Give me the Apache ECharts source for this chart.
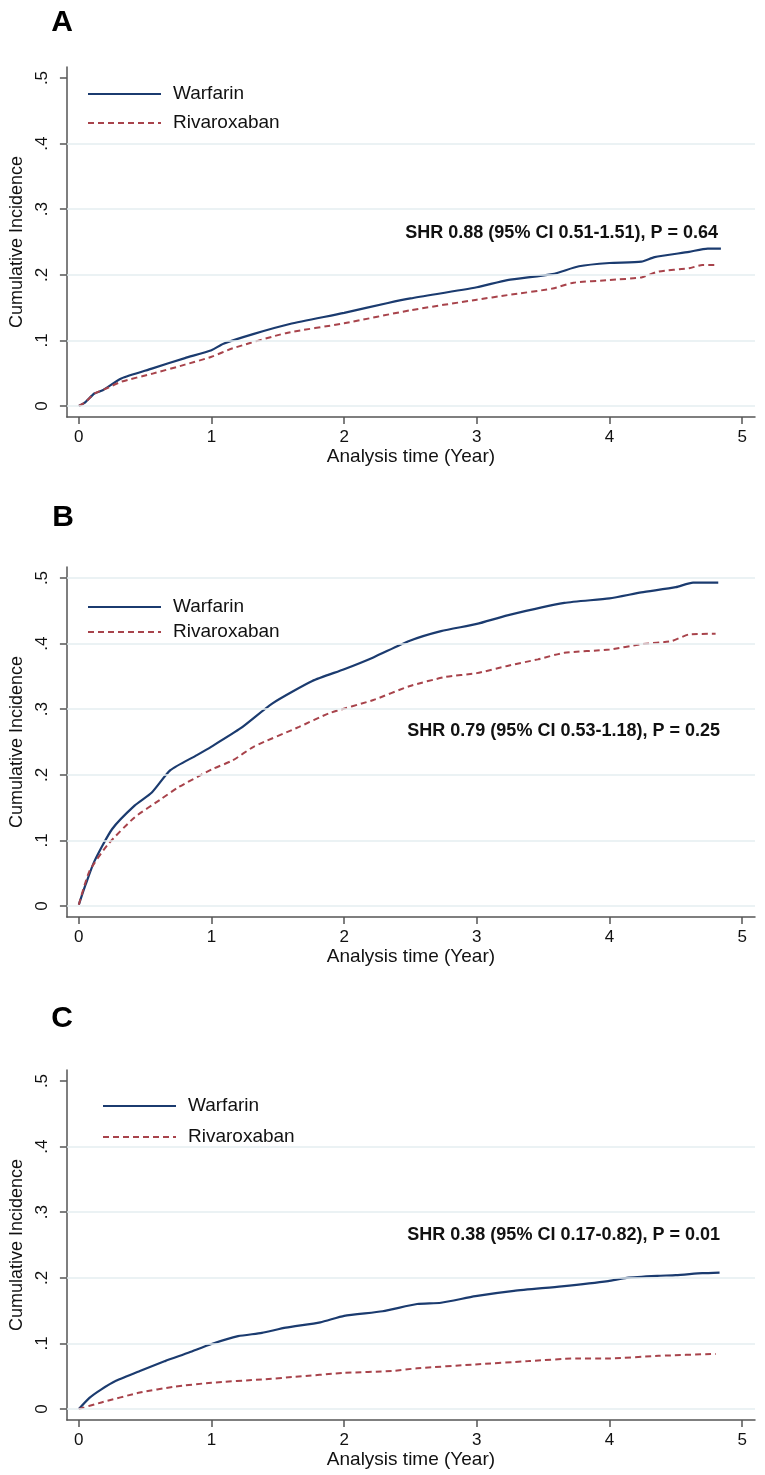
<!DOCTYPE html>
<html>
<head>
<meta charset="utf-8">
<script src="https://cdn.jsdelivr.net/npm/echarts@6/dist/echarts.min.js"></script>
<style>
html,body{margin:0;padding:0;background:#fff;}
#chart{width:765px;height:1475px;}
</style>
</head>
<body>
<div id="chart"></div>
<script>
// ---------- data ----------
const panelLabels = ['A', 'B', 'C'];
const seriesNames = ['Warfarin', 'Rivaroxaban'];
const xTicks = [0, 1, 2, 3, 4, 5];
const xTickLabels = ['0', '1', '2', '3', '4', '5'];
const yTicks = [0, 0.1, 0.2, 0.3, 0.4, 0.5];
const yTickLabels = ['0', '.1', '.2', '.3', '.4', '.5'];
const xTitle = 'Analysis time (Year)';
const yTitle = 'Cumulative Incidence';
const shrTexts = [
  'SHR 0.88 (95% CI 0.51-1.51), P = 0.64',
  'SHR 0.79 (95% CI 0.53-1.18), P = 0.25',
  'SHR 0.38 (95% CI 0.17-0.82), P = 0.01'
];

const aWarfarin = [[0,0],[0.05,0.006],[0.117,0.019],[0.18,0.024],[0.32,0.042],[0.55,0.057],[0.8,0.073],[1,0.085],[1.09,0.095],[1.32,0.110],[1.59,0.125],[2,0.142],[2.33,0.157],[2.5,0.164],[3,0.181],[3.23,0.192],[3.57,0.201],[3.77,0.213],[4,0.218],[4.24,0.220],[4.34,0.227],[4.6,0.235],[4.74,0.240],[4.84,0.240]];
const aRivaroxaban = [[0,0],[0.05,0.006],[0.117,0.019],[0.2,0.026],[0.32,0.037],[0.55,0.049],[0.8,0.063],[1,0.075],[1.16,0.088],[1.56,0.111],[2,0.126],[2.5,0.146],[3,0.162],[3.23,0.169],[3.57,0.179],[3.73,0.188],[4,0.192],[4.24,0.196],[4.37,0.205],[4.6,0.210],[4.7,0.215],[4.79,0.215]];

const bWarfarin = [[0,0.002],[0.05,0.032],[0.117,0.068],[0.25,0.117],[0.42,0.153],[0.55,0.173],[0.69,0.207],[0.89,0.230],[1,0.243],[1.22,0.271],[1.46,0.309],[1.76,0.343],[2,0.361],[2.22,0.379],[2.49,0.404],[2.73,0.419],[3,0.430],[3.23,0.443],[3.66,0.462],[4,0.469],[4.24,0.478],[4.5,0.486],[4.63,0.493],[4.82,0.493]];
const bRivaroxaban = [[0,0.002],[0.08,0.053],[0.22,0.094],[0.42,0.135],[0.62,0.163],[0.75,0.181],[1,0.208],[1.16,0.222],[1.32,0.243],[1.66,0.273],[1.89,0.294],[2.22,0.314],[2.49,0.335],[2.76,0.349],[3,0.355],[3.23,0.366],[3.46,0.376],[3.66,0.386],[4,0.391],[4.24,0.399],[4.47,0.404],[4.6,0.414],[4.8,0.415]];

const cWarfarin = [[0,0],[0.08,0.017],[0.17,0.030],[0.28,0.043],[0.46,0.058],[0.65,0.073],[0.83,0.086],[1,0.099],[1.2,0.111],[1.38,0.116],[1.56,0.124],[1.82,0.132],[2,0.142],[2.29,0.149],[2.55,0.160],[2.73,0.162],[2.99,0.172],[3.28,0.180],[3.64,0.187],[3.99,0.195],[4.13,0.200],[4.36,0.203],[4.5,0.204],[4.7,0.207],[4.83,0.208]];
const cRivaroxaban = [[0,0],[0.17,0.010],[0.46,0.025],[0.72,0.034],[1,0.040],[1.38,0.045],[1.63,0.049],[2,0.055],[2.36,0.058],[2.55,0.062],[2.99,0.068],[3.39,0.073],[3.75,0.077],[3.99,0.077],[4.37,0.081],[4.8,0.084]];

const panelData = [[aWarfarin, aRivaroxaban],[bWarfarin, bRivaroxaban],[cWarfarin, cRivaroxaban]];
const panelGridLines = [[0,0.1,0.2,0.3,0.4],[0,0.1,0.2,0.3,0.4,0.5],[0,0.1,0.2,0.3,0.4]];

// ---------- layout ----------
const FONT = '"Liberation Sans", Arial, sans-serif';
const gridTops = [67, 567, 1070];
const gridH = 350;
const legendLayout = [
  {left: 82, top: 79.5, gap: 10},
  {left: 82, top: 592.5, gap: 6},
  {left: 97, top: 1091.5, gap: 12}
];
const shrLayout = [{right: 42, top: 219}, {right: 40, top: 717}, {right: 40, top: 1221}];
const labelLayout = [{left: 57, top: 3}, {left: 58, top: 498}, {left: 57, top: 999}];
const colors = ['#1b3b6f', '#a8434b'];

const chart = echarts.init(document.getElementById('chart'), null, {renderer: 'canvas'});

const grids = [], xAxes = [], yAxes = [], series = [], legends = [], titles = [];
for (let p = 0; p < 3; p++) {
  grids.push({left: 63, right: 10, top: gridTops[p], height: gridH, containLabel: false});
  xAxes.push({
    type: 'value', gridIndex: p, min: -0.09, max: 5.097,
    name: xTitle, nameLocation: 'middle', nameGap: 30,
    nameTextStyle: {fontFamily: FONT, fontSize: 19, color: '#111'},
    axisLine: {show: true, onZero: false, lineStyle: {color: '#555', width: 1.5}},
    axisTick: {show: true, length: 7, lineStyle: {color: '#555', width: 1.5}, customValues: xTicks},
    axisLabel: {show: true, customValues: xTicks, margin: 12, fontFamily: FONT, fontSize: 17, color: '#111',
      formatter: v => xTickLabels[xTicks.indexOf(Math.round(v))]},
    splitLine: {show: false}
  });
  yAxes.push({
    type: 'value', gridIndex: p, min: -0.0168, max: 0.5168,
    name: yTitle, nameLocation: 'middle', nameGap: 36,
    nameTextStyle: {fontFamily: FONT, fontSize: 18, color: '#111'},
    axisLine: {show: true, onZero: false, lineStyle: {color: '#555', width: 1.5}},
    axisTick: {show: true, length: 7, lineStyle: {color: '#555', width: 1.5}, customValues: yTicks},
    axisLabel: {show: true, customValues: yTicks, rotate: 90, margin: 16, fontFamily: FONT, fontSize: 17, color: '#111',
      formatter: v => yTickLabels[Math.round(v * 10)]},
    splitLine: {show: false}
  });
  const [w, r] = panelData[p];
  series.push({
    name: seriesNames[0], type: 'line', xAxisIndex: p, yAxisIndex: p,
    data: w, symbol: 'none', showSymbol: false, smooth: 0.2,
    lineStyle: {color: colors[0], width: 2.2}, itemStyle: {color: colors[0]}, z: 3,
    markLine: {silent: true, symbol: 'none', label: {show: false}, animation: false,
      lineStyle: {color: '#e4eef1', width: 1.5, type: 'solid'},
      emphasis: {disabled: true},
      data: panelGridLines[p].map(v => ({yAxis: v}))}
  });
  series.push({
    name: seriesNames[1], type: 'line', xAxisIndex: p, yAxisIndex: p,
    data: r, symbol: 'none', showSymbol: false, smooth: 0.2,
    lineStyle: {color: colors[1], width: 2, type: [6, 4]}, itemStyle: {color: colors[1]}, z: 4
  });
  legends.push({
    data: seriesNames, orient: 'vertical', left: legendLayout[p].left, top: legendLayout[p].top,
    itemWidth: 73, itemHeight: 14, itemGap: legendLayout[p].gap, selectedMode: false,
    itemStyle: {opacity: 0},
    lineStyle: {width: 2},
    textStyle: {fontFamily: FONT, fontSize: 19, color: '#111', lineHeight: 19, padding: [0, 0, 0, 7]}
  });
  titles.push({
    text: shrTexts[p], right: shrLayout[p].right, top: shrLayout[p].top,
    textStyle: {fontFamily: FONT, fontSize: 18, fontWeight: 'bold', color: '#111'}
  });
  titles.push({
    text: panelLabels[p], left: labelLayout[p].left, top: labelLayout[p].top, textAlign: 'center',
    textStyle: {fontFamily: FONT, fontSize: 30, fontWeight: 'bold', color: '#000'}
  });
}

chart.setOption({
  backgroundColor: '#fff',
  animation: false,
  title: titles,
  grid: grids,
  xAxis: xAxes,
  yAxis: yAxes,
  legend: legends,
  series: series
});
</script>
</body>
</html>
